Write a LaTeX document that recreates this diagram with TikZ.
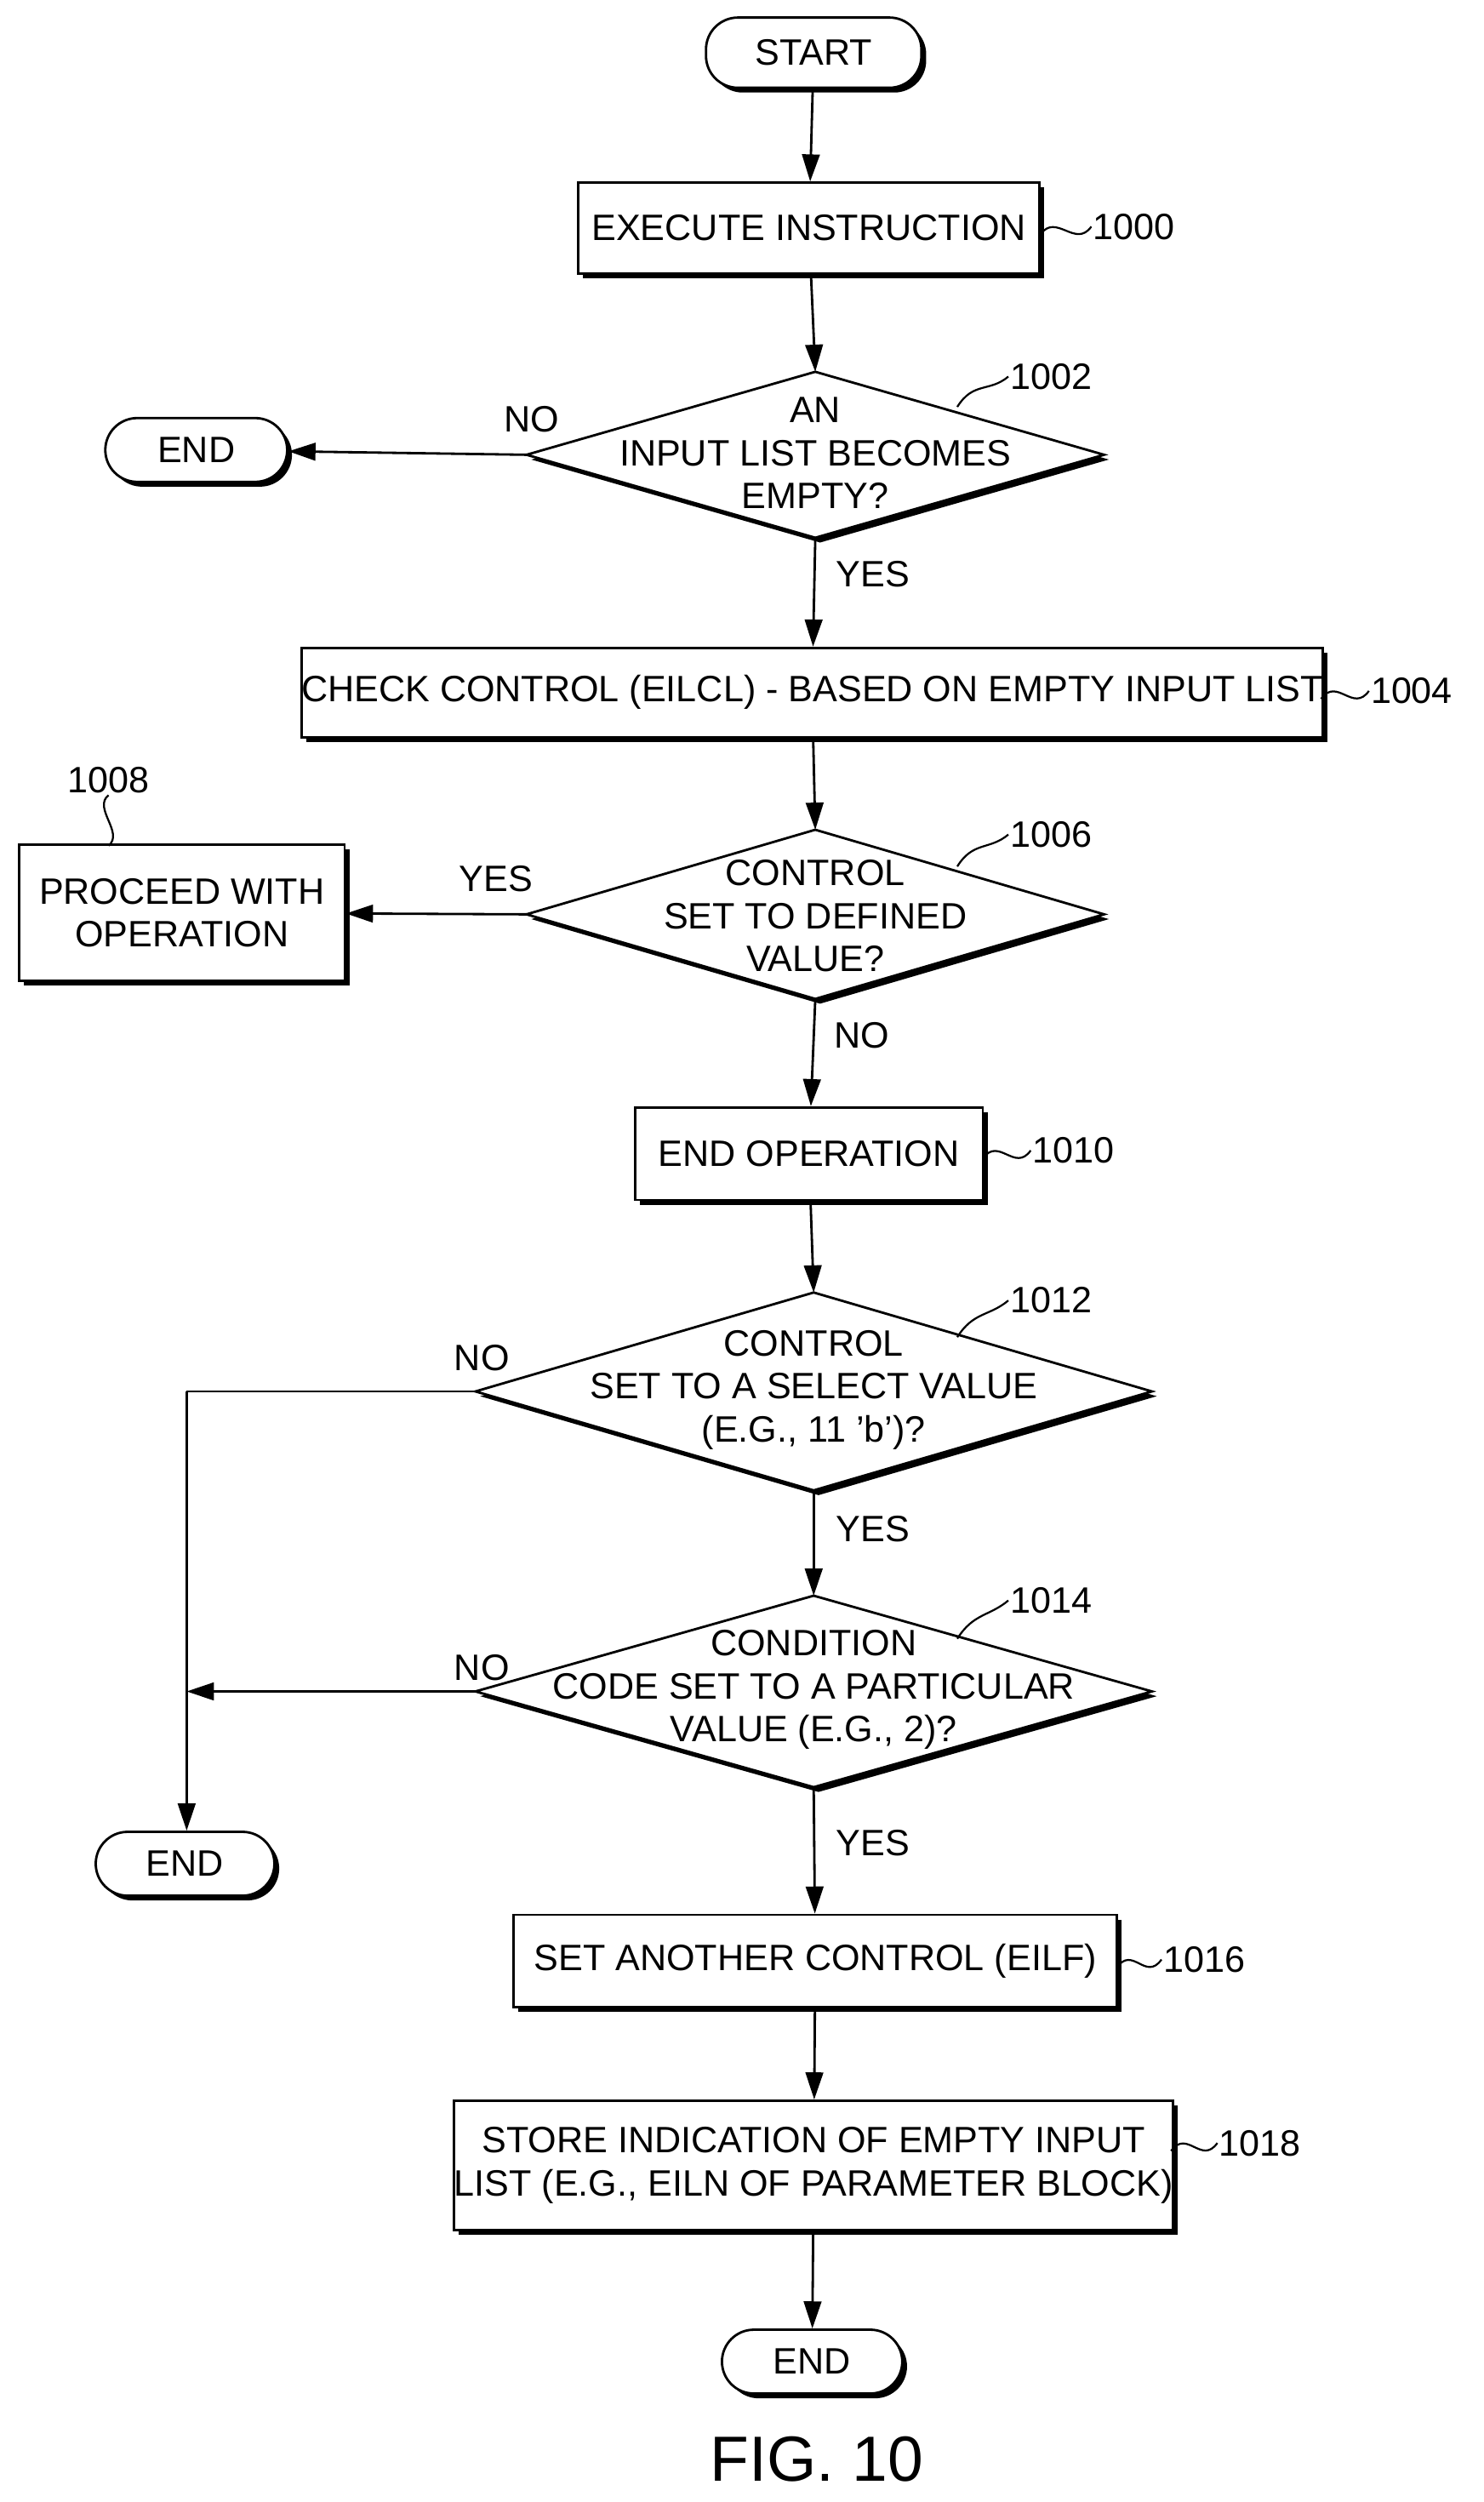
\documentclass[tikz,border=0pt]{standalone}
\usepackage{fontspec}
\setmainfont{Liberation Sans}
\usetikzlibrary{arrows.meta,shadows}
\begin{document}
\begin{tikzpicture}[x=1pt,y=-1pt,
  every node/.style={font=\fontsize{23}{27}\selectfont},
  sh/.style={line width=1.5pt,draw=black,fill=white,drop shadow={shadow xshift=3pt,shadow yshift=-3pt,fill=black,opacity=1}},
  box/.style={sh,rectangle,inner sep=0pt,align=center},
  pill/.style={sh,rectangle,rounded corners=20pt,inner sep=0pt},
  txt/.style={align=center,inner sep=0pt},
  ar/.style={line width=1.5pt,-{Triangle[length=17pt,width=11pt]}},
  ln/.style={line width=1.5pt},
  sq/.style={line width=1.2pt},
  lab/.style={inner sep=1pt}]
\useasboundingbox (0,0) rectangle (930,1568);
\newcommand\mydia[5]{%
  \coordinate (#1t) at (#2,#3-#5); \coordinate (#1b) at (#2,#3+#5);
  \coordinate (#1l) at (#2-#4,#3); \coordinate (#1r) at (#2+#4,#3);
  \draw[sh] (#1t)--(#1r)--(#1b)--(#1l)--cycle;}
% terminals and boxes
\node[pill,minimum width=135pt,minimum height=44pt] (start) at (510,33) {START};
\node[box,minimum width=289pt,minimum height=57pt] (exec) at (507,143) {EXECUTE INSTRUCTION};
\mydia{d2}{511}{285}{181}{52}
\node[txt] (t2) at (511,284) {AN\\INPUT LIST BECOMES\\EMPTY?};
\node[pill,minimum width=114pt,minimum height=40pt] (end1) at (123,282) {END};
\node[box,minimum width=637pt,minimum height=56pt] (b4) at (509,434) {CHECK CONTROL (EILCL) - BASED ON EMPTY INPUT LIST};
\mydia{d6}{511}{573}{181}{53}
\node[txt] (t6) at (511,574) {CONTROL\\SET TO DEFINED\\VALUE?};
\node[box,minimum width=204pt,minimum height=85pt] (b8) at (114,572) {PROCEED WITH\\OPERATION};
\node[box,minimum width=218pt,minimum height=58pt] (b10) at (507,723) {END OPERATION};
\mydia{d12}{510}{872}{212}{62}
\node[txt] (t12) at (510,871) {CONTROL\\SET TO A SELECT VALUE\\(E.G., 11 'b')?};
\mydia{d14}{510}{1060}{212}{60}
\node[txt] (t14) at (510,1059) {CONDITION\\CODE SET TO A PARTICULAR\\VALUE (E.G., 2)?};
\node[pill,minimum width=112pt,minimum height=40pt] (end2) at (116,1168) {END};
\node[box,minimum width=378pt,minimum height=58pt] (b16) at (511,1229) {SET ANOTHER CONTROL (EILF)};
\node[box,minimum width=448pt,minimum height=81pt] (b18) at (510,1357) {STORE INDICATION OF EMPTY INPUT\\LIST (E.G., EILN OF PARAMETER BLOCK)};
\node[pill,minimum width=113pt,minimum height=40pt] (end3) at (509,1480) {END};
\node[font=\fontsize{40}{44}\selectfont] (fig) at (512,1541) {FIG. 10};
% connectors
\draw[ar] (start) -- (exec);
\draw[ar] (exec) -- (d2t);
\draw[ar] (d2l) -- (end1);
\node[lab] (no1) at (333,263) {NO};
\draw[ar] (d2b) -- (b4);
\node[lab] (yes1) at (547,360) {YES};
\draw[ar] (b4) -- (d6t);
\draw[ar] (d6l) -- (b8);
\node[lab] (yes2) at (311,551) {YES};
\draw[ar] (d6b) -- (b10);
\node[lab] (no2) at (540,649) {NO};
\draw[ar] (b10) -- (d12t);
\coordinate (c1) at (117,872);
\coordinate (c2) at (117,1060);
\draw[ln] (d12l) -- (c1);
\draw[ar] (c1) -- (end2.north-|c1);
\node[lab] (no3) at (302,851) {NO};
\draw[ar] (d12b) -- (d14t);
\node[lab] (yes3) at (547,958) {YES};
\draw[ar] (d14l) -- (c2);
\node[lab] (no4) at (302,1045) {NO};
\draw[ar] (d14b) -- (b16);
\node[lab] (yes4) at (547,1155) {YES};
\draw[ar] (b16) -- (b18);
\draw[ar] (b18) -- (end3);
% reference labels
\node[lab,anchor=west] (r1000) at (684,142) {1000};
\draw[sq] (652,147) .. controls +(10,-14) and +(-10,14) .. (r1000.west);
\node[lab,anchor=west] (r1002) at (632,236) {1002};
\draw[sq] (600,255) .. controls +(10,-16) and +(-12,10) .. (r1002.west);
\node[lab,anchor=west] (r1004) at (858,433) {1004};
\draw[sq] (828,438) .. controls +(10,-14) and +(-10,14) .. (r1004.west);
\node[lab,anchor=west] (r1006) at (632,523) {1006};
\draw[sq] (600,543) .. controls +(10,-16) and +(-12,10) .. (r1006.west);
\node[lab] (r1008) at (68,489) {1008};
\draw[sq] (r1008.south) .. controls +(-10,8) and +(10,-8) .. (68,530);
\node[lab,anchor=west] (r1010) at (646,721) {1010};
\draw[sq] (616,726) .. controls +(10,-14) and +(-10,14) .. (r1010.west);
\node[lab,anchor=west] (r1012) at (632,815) {1012};
\draw[sq] (600,838) .. controls +(10,-16) and +(-12,10) .. (r1012.west);
\node[lab,anchor=west] (r1014) at (632,1003) {1014};
\draw[sq] (600,1027) .. controls +(10,-16) and +(-12,10) .. (r1014.west);
\node[lab,anchor=west] (r1016) at (728,1228) {1016};
\draw[sq] (700,1233) .. controls +(10,-14) and +(-10,14) .. (r1016.west);
\node[lab,anchor=west] (r1018) at (763,1343) {1018};
\draw[sq] (734,1348) .. controls +(10,-14) and +(-10,14) .. (r1018.west);
\end{tikzpicture}
\end{document}
